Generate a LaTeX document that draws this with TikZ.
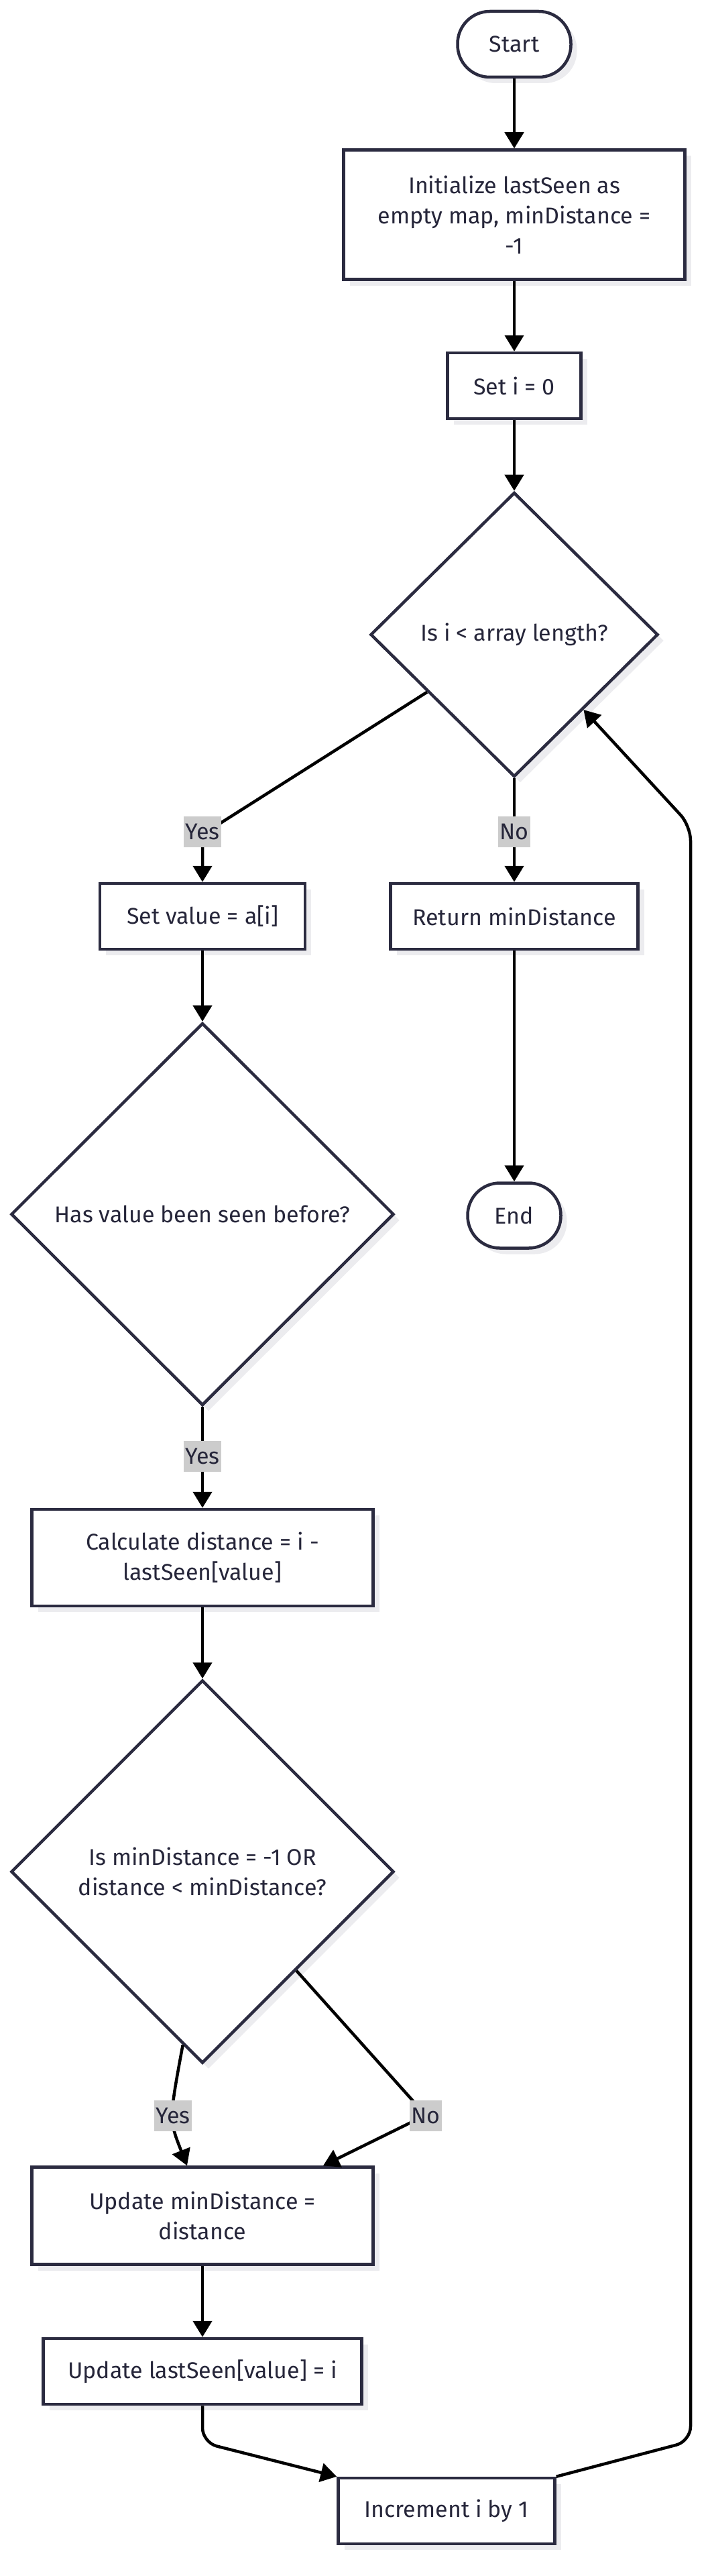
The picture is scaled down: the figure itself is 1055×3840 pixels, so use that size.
\documentclass[tikz,border=0pt]{standalone}
\usepackage{fontspec}
\setmainfont{Fira Sans}
\usetikzlibrary{shapes.geometric,arrows.meta,shadows,calc}
\definecolor{nodeline}{HTML}{2B2B40}
\definecolor{nodetext}{HTML}{26263A}
\definecolor{shadowc}{HTML}{ECECEF}
\definecolor{lblbg}{HTML}{CCCCCC}
\begin{document}
\begin{tikzpicture}[x=1pt,y=-1pt,
  base/.style={draw=nodeline, line width=4.5pt, fill=white, text=nodetext,
    font=\fontsize{34}{45}\selectfont, align=center, inner sep=0pt,
    general shadow={draw=none, fill=shadowc, shadow xshift=9pt, shadow yshift=-9pt}},
  proc/.style={base, rectangle},
  term/.style={base, rectangle, rounded corners=48pt},
  dec/.style={base, diamond, aspect=1},
  edge/.style={draw=black, line width=4.5pt, -{Triangle[length=24pt,width=28pt]}},
  lbl/.style={fill=lblbg, text=nodetext, font=\fontsize{34}{45}\selectfont,
    inner xsep=2pt, inner ysep=0pt, minimum height=46pt}
  ]
\useasboundingbox[fill=white] (0,0) rectangle (1055,3840);

\node[term, minimum width=169pt, minimum height=98pt] (start) at (767,66) {Start};
\node[proc, minimum width=509pt, minimum height=193pt] (init) at (767,320) {Initialize lastSeen as\\empty map, minDistance =\\-1};
\node[proc, minimum width=199pt, minimum height=98pt] (seti) at (767,575) {Set i = 0};
\node[dec, minimum width=429pt, minimum height=424pt] (d1) at (767,946) {Is i < array length?};
\node[proc, minimum width=306pt, minimum height=98pt] (setv) at (302,1366) {Set value = a[i]};
\node[proc, minimum width=369pt, minimum height=98pt] (ret) at (767,1366) {Return minDistance};
\node[term, minimum width=139pt, minimum height=97pt] (end) at (767,1812) {End};
\node[dec, minimum width=571pt, minimum height=570pt] (d2) at (302,1810) {Has value been seen before?};
\node[proc, minimum width=509pt, minimum height=144pt] (calc) at (302,2322) {Calculate distance = i -\\lastSeen[value]};
\node[dec, minimum width=571pt, minimum height=571pt] (d3) at (302,2790) {Is minDistance = -1 OR\\distance < minDistance?};
\node[proc, minimum width=509pt, minimum height=145pt] (updmin) at (302,3303) {Update minDistance =\\distance};
\node[proc, minimum width=475pt, minimum height=98pt] (updlast) at (302,3535) {Update lastSeen[value] = i};
\node[proc, minimum width=323pt, minimum height=98pt] (inc) at (666,3743) {Increment i by 1};

\coordinate (y1s) at ($(d1.west)!0.4!(d1.south)$);
\coordinate (y1b) at (302,1244);
\coordinate (y3s) at ($(d3.west)!0.898!(d3.south)$);
\coordinate (y3c) at (252,3160);
\coordinate (y3e) at ([xshift=-23pt]updmin.north);
\coordinate (n3s) at ($(d3.east)!0.513!(d3.south)$);
\coordinate (n3b) at (635,3153);
\coordinate (n3e) at ([xshift=180pt]updmin.north);
\coordinate (ulb) at (302,3641);
\coordinate (lpb) at (1030,3639);
\coordinate (lpt) at (1030,1231);

\draw[edge] (start) -- (init);
\draw[edge] (init) -- (seti);
\draw[edge] (seti) -- (d1);
\draw[edge, rounded corners=12pt] (y1s) -- (y1b) -- (setv.north);
\draw[edge] (d1) -- (ret);
\draw[edge] (ret) -- (end);
\draw[edge] (setv) -- (d2);
\draw[edge] (d2) -- (calc);
\draw[edge] (calc) -- (d3);
\draw[edge] (y3s) .. controls (y3c) .. (y3e);
\draw[edge, rounded corners=8pt] (n3s) -- (n3b) -- (n3e);
\draw[edge] (updmin) -- (updlast);
\draw[edge, rounded corners=22pt] (updlast.south) -- (ulb) -- (inc.north west);
\draw[edge, rounded corners=22pt] (inc.north east) -- (lpb) -- (lpt) -- (d1);

\node[lbl] (lyes1) at (302,1240) {Yes};
\node[lbl] (lno1) at (767,1240) {No};
\node[lbl] (lyes2) at (302,2171) {Yes};
\node[lbl] (lyes3) at (258,3154) {Yes};
\node[lbl] (lno3) at (635,3154) {No};
\end{tikzpicture}
\end{document}
